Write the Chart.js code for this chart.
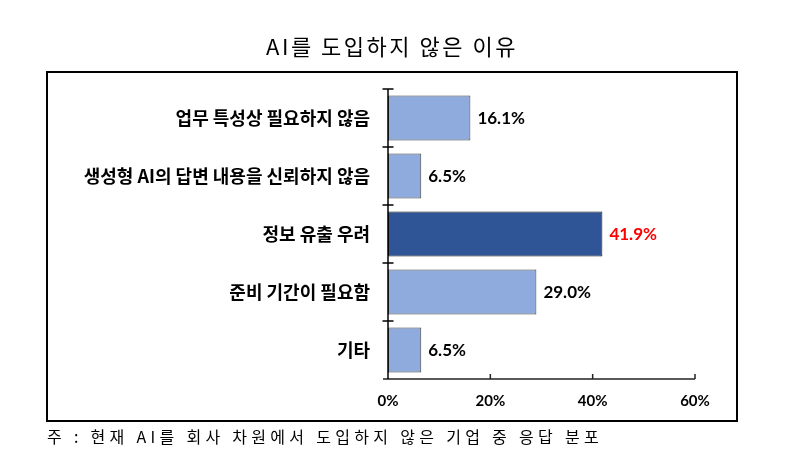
<!DOCTYPE html>
<html><head><meta charset="utf-8">
<script src="https://cdn.jsdelivr.net/npm/chart.js@4"></script>
<style>html,body{margin:0;padding:0;background:#fff;}canvas{display:block;}</style>
</head><body>
<canvas id="c" width="790" height="466"></canvas>
<script>
const titleText = 'AI를 도입하지 않은 이유';
const noteText = '주 : 현재 AI를 회사 차원에서 도입하지 않은 기업 중 응답 분포';
const categories = ['업무 특성상 필요하지 않음','생성형 AI의 답변 내용을 신뢰하지 않음','정보 유출 우려','준비 기간이 필요함','기타'];
const values = [16.1, 6.5, 41.9, 29.0, 6.5];
const highlight = [false, false, true, false, false];
const xTicks = [0, 20, 40, 60];

const lightBlue = '#8FAADC', darkBlue = '#2F5597';
const labelFont = '"Noto Sans CJK KR", sans-serif';
const numFont = 'Lato, "Noto Sans", sans-serif';

const decor = {
  id: 'decor',
  afterDraw(chart) {
    const ctx = chart.ctx, x = chart.scales.x, y = chart.scales.y, a = chart.chartArea;
    ctx.save();
    // outer box
    ctx.strokeStyle = '#000'; ctx.lineWidth = 2;
    ctx.strokeRect(47, 72, 690, 349);
    // title
    ctx.fillStyle = '#000';
    ctx.font = '22px ' + labelFont;
    ctx.letterSpacing = '2.5px';
    ctx.textAlign = 'center'; ctx.textBaseline = 'middle';
    ctx.fillText(titleText, 392, 47);
    // footnote
    ctx.font = '16px ' + labelFont;
    ctx.letterSpacing = '4.3px';
    ctx.textAlign = 'left';
    ctx.fillText(noteText, 47, 437);
    ctx.letterSpacing = '0px';
    // x axis line and ticks
    const x0 = x.getPixelForValue(0);
    ctx.strokeStyle = '#222'; ctx.lineWidth = 1.5;
    ctx.beginPath(); ctx.moveTo(x0 - 5, a.bottom); ctx.lineTo(x.getPixelForValue(60), a.bottom); ctx.stroke();
    xTicks.slice(1).forEach(v => {
      const px = x.getPixelForValue(v);
      ctx.beginPath(); ctx.moveTo(px, a.bottom); ctx.lineTo(px, a.bottom - 5); ctx.stroke();
    });
    // y axis line and crossing ticks at category boundaries
    ctx.strokeStyle = '#000'; ctx.lineWidth = 1.5;
    ctx.beginPath(); ctx.moveTo(x0, a.top); ctx.lineTo(x0, a.bottom); ctx.stroke();
    const n = categories.length;
    for (let i = 0; i < n; i++) {
      const py = y.getPixelForValue(i - 0.5);
      ctx.beginPath(); ctx.moveTo(x0 - 5.5, py); ctx.lineTo(x0 + 5.5, py); ctx.stroke();
    }
    // value labels
    const meta = chart.getDatasetMeta(0);
    ctx.font = 'bold 17px ' + numFont;
    ctx.textAlign = 'left'; ctx.textBaseline = 'middle';
    meta.data.forEach((bar, i) => {
      ctx.fillStyle = highlight[i] ? '#FF0000' : '#000';
      ctx.fillText(values[i].toFixed(1) + '%', bar.x + 7, bar.y + 1);
    });
    ctx.restore();
  }
};

new Chart(document.getElementById('c'), {
  type: 'bar',
  data: {
    labels: categories,
    datasets: [{
      data: values,
      backgroundColor: highlight.map(h => h ? darkBlue : lightBlue),
      borderColor: highlight.map(h => h ? '#1a1a1a' : '#404040'),
      borderWidth: 1,
      borderSkipped: false,
      categoryPercentage: 1,
      barPercentage: 0.78
    }]
  },
  options: {
    indexAxis: 'y',
    responsive: false,
    animation: false,
    layout: { padding: { left: 0, right: 95, top: 89, bottom: 0 } },
    plugins: { legend: { display: false }, tooltip: { enabled: false }, title: { display: false } },
    scales: {
      x: {
        min: 0, max: 60,
        afterBuildTicks(s) { s.ticks = xTicks.map(v => ({ value: v })); },
        afterFit(s) { s.height = 87; },
        grid: { display: false, drawTicks: false },
        border: { display: false },
        ticks: { padding: 13, color: '#000', font: { family: numFont, weight: 'bold', size: 15 }, callback: v => v + '%' }
      },
      y: {
        afterFit(s) { s.width = 388; },
        grid: { display: false, drawTicks: false, offset: true },
        border: { display: false },
        ticks: { padding: 18, color: '#000', font: { family: labelFont, weight: 'bold', size: 18 } }
      }
    }
  },
  plugins: [decor]
});
</script>
</body></html>
